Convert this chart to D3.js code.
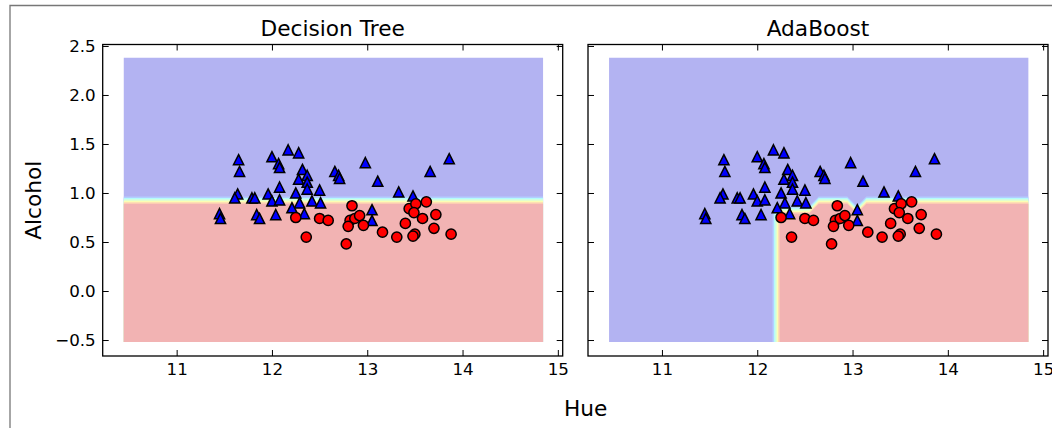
<!DOCTYPE html>
<html>
<head>
<meta charset="utf-8">
<script src="https://cdn.jsdelivr.net/npm/d3@7"></script>
<style>
  body { margin: 0; background: #fff; }
  svg { display: block; font-family: "DejaVu Sans", sans-serif; }
</style>
</head>
<body>
<svg id="chart" width="1052" height="428"></svg>
<script>
// training samples, [hue, alcohol]
var class0 = [[11.65,1.34],[11.66,1.22],[12.00,1.37],[12.17,1.44],[12.28,1.41],[12.07,1.30],
  [12.08,1.26],[12.32,1.24],[12.37,1.18],[12.28,1.14],[12.37,1.11],[12.37,1.04],[12.08,1.06],
  [12.50,1.03],[12.25,1.00],[11.64,0.99],[11.61,0.95],[11.79,0.95],[11.82,0.95],[11.96,0.99],
  [12.00,0.92],[12.08,0.93],[12.29,0.90],[12.42,0.92],[12.51,0.90],[12.21,0.85],[12.34,0.79],
  [11.45,0.79],[11.46,0.74],[11.84,0.78],[11.87,0.74],[12.04,0.78],[12.66,1.22],[12.70,1.18],
  [12.71,1.15],[12.98,1.31],[13.11,1.12],[13.05,0.83],[13.05,0.72],[13.33,1.01],[13.48,0.97],
  [13.66,1.22],[13.86,1.35]];
var class1 = [[12.84,0.87],[12.25,0.75],[12.50,0.74],[12.59,0.72],[12.82,0.72],[12.87,0.74],
  [12.92,0.77],[12.80,0.66],[12.96,0.67],[12.36,0.55],[12.78,0.48],[13.16,0.60],[13.31,0.55],
  [13.44,0.84],[13.51,0.89],[13.62,0.91],[13.49,0.80],[13.40,0.69],[13.58,0.74],[13.72,0.78],
  [13.70,0.64],[13.50,0.58],[13.48,0.56],[13.88,0.58]];

var xTicks = [11, 12, 13, 14, 15];
var yTicks = [-0.5, 0, 0.5, 1, 1.5, 2, 2.5];
var titles = ["Decision Tree", "AdaBoost"];

// depth-1 tree splits on alcohol only
var treeSplit = 0.93;
// adaboost: from each hue value on, class 1 below the alcohol cut
var adaHue = [12.2, 12.6, 13.0, 13.1];
var adaCut = [0.83, 0.93, 0.83, 0.93];

// mesh for the decision surface (step 0.1)
var meshStep = 0.1;
var meshX0 = 10.445, meshNx = 45;
var meshY0 = -0.52, meshNy = 30;
var levels = [0, 0.15, 0.3, 0.45, 0.6, 0.75, 0.9, 1.05];

function predictTree(h, a) { return a < treeSplit ? 1 : 0; }
function predictAda(h, a) {
  var k = d3.bisectRight(adaHue, h) - 1;
  if (k < 0) return 0;
  return a < adaCut[k] ? 1 : 0;
}
var predictors = [predictTree, predictAda];

// jet colormap, blended with white at alpha 0.3
var jetR = d3.scaleLinear().domain([0, 0.35, 0.66, 0.89, 1]).range([0, 0, 1, 1, 0.5]);
var jetG = d3.scaleLinear().domain([0, 0.125, 0.375, 0.64, 0.91, 1]).range([0, 0, 1, 1, 0, 0]);
var jetB = d3.scaleLinear().domain([0, 0.11, 0.34, 0.65, 1]).range([0.5, 1, 1, 0, 0]);
function layerColor(k) {
  var top = levels[levels.length - 1];
  var t = (levels[k] + levels[k + 1]) / 2 / top;
  var c = d3.rgb(jetR(t) * 255, jetG(t) * 255, jetB(t) * 255);
  return d3.interpolateRgb("#ffffff", c)(0.3);
}

var svg = d3.select("#chart");
var W = 460;
var top0 = 44.5, bot0 = 356;
var panelLeft = [102.7, 588];

var x = d3.scaleLinear().domain([10.224, 15.051]).range([0, W]);
var y = d3.scaleLinear().domain([-0.663, 2.515]).range([bot0, top0]);

// gray frame left over from the screenshot
svg.append("path")
  .attr("d", "M10,428V5.5H1052")
  .attr("fill", "none")
  .attr("stroke", "#777")
  .attr("stroke-width", 1.3);

panelLeft.forEach(function (left, p) {
  var g = svg.append("g").attr("transform", "translate(" + left + ",0)");

  // decision surface
  var values = [];
  for (var j = 0; j < meshNy; j++) {
    for (var i = 0; i < meshNx; i++) {
      values.push(predictors[p](meshX0 + i * meshStep, meshY0 + j * meshStep));
    }
  }
  var contours = d3.contours()
    .size([meshNx, meshNy])
    .thresholds(levels.slice(0, -1))(values);

  var proj = d3.geoTransform({
    point: function (gx, gy) {
      this.stream.point(x(meshX0 + (gx - 0.5) * meshStep), y(meshY0 + (gy - 0.5) * meshStep));
    }
  });
  var path = d3.geoPath(proj);

  var clipId = "clip" + p;
  g.append("clipPath").attr("id", clipId)
    .append("rect")
    .attr("x", x(meshX0))
    .attr("y", y(meshY0 + (meshNy - 1) * meshStep))
    .attr("width", x(meshX0 + (meshNx - 1) * meshStep) - x(meshX0))
    .attr("height", y(meshY0) - y(meshY0 + (meshNy - 1) * meshStep));

  g.append("g").attr("clip-path", "url(#" + clipId + ")")
    .selectAll("path")
    .data(contours)
    .join("path")
    .attr("d", path)
    .attr("fill-rule", "evenodd")
    .attr("fill", function (d, k) { return layerColor(k); });

  // samples
  var half = 5.1;
  g.append("g").selectAll("path")
    .data(class0)
    .join("path")
    .attr("transform", function (d) { return "translate(" + x(d[0]) + "," + y(d[1]) + ")"; })
    .attr("d", "M0," + (-half) + "L" + half + "," + half + "L" + (-half) + "," + half + "Z")
    .attr("fill", "#0000ff")
    .attr("stroke", "#000")
    .attr("stroke-width", 1.5);

  g.append("g").selectAll("circle")
    .data(class1)
    .join("circle")
    .attr("cx", function (d) { return x(d[0]); })
    .attr("cy", function (d) { return y(d[1]); })
    .attr("r", half)
    .attr("fill", "#ff0000")
    .attr("stroke", "#000")
    .attr("stroke-width", 1.5);

  // axes, ticks pointing inward on all four sides
  function styleAxis(sel) {
    sel.select(".domain").remove();
    sel.attr("font-size", 16.7).attr("font-family", null);
    sel.selectAll("text").attr("fill", "#000");
  }
  g.append("g").attr("transform", "translate(0," + bot0 + ")")
    .call(d3.axisBottom(x).tickValues(xTicks).tickSize(-6).tickPadding(7).tickFormat(d3.format("d")))
    .call(styleAxis);
  g.append("g").attr("transform", "translate(0," + top0 + ")")
    .call(d3.axisTop(x).tickValues(xTicks).tickSize(-6).tickFormat(""))
    .call(styleAxis);
  g.append("g")
    .call(d3.axisLeft(y).tickValues(yTicks).tickSize(-6).tickPadding(7)
      .tickFormat(p === 0 ? d3.format(".1f") : ""))
    .call(styleAxis);
  g.append("g").attr("transform", "translate(" + W + ",0)")
    .call(d3.axisRight(y).tickValues(yTicks).tickSize(-6).tickFormat(""))
    .call(styleAxis);

  g.append("rect")
    .attr("x", 0).attr("y", top0)
    .attr("width", W).attr("height", bot0 - top0)
    .attr("fill", "none")
    .attr("stroke", "#000")
    .attr("stroke-width", 1.3);

  g.append("text")
    .attr("x", W / 2).attr("y", 36)
    .attr("text-anchor", "middle")
    .attr("font-size", 21.7)
    .text(titles[p]);

  if (p === 0) {
    g.append("text")
      .attr("transform", "translate(" + (41.5 - left) + "," + (bot0 + top0) / 2 + ") rotate(-90)")
      .attr("text-anchor", "middle")
      .attr("font-size", 21.7)
      .text("Alcohol");
  } else {
    // placed in data coordinates of the right panel
    g.append("text")
      .attr("x", x(10.2)).attr("y", y(-1.2))
      .attr("text-anchor", "middle")
      .attr("dominant-baseline", "central")
      .attr("font-size", 21.7)
      .text("Hue");
  }
});
</script>
</body>
</html>
